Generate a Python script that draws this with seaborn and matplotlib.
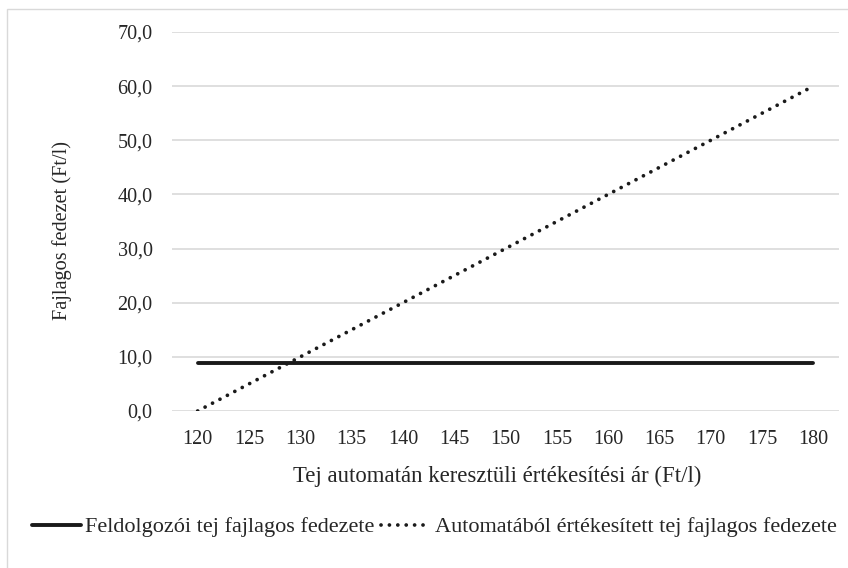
import numpy as np
import pandas as pd
import matplotlib.pyplot as plt
import seaborn as sns
from matplotlib.patches import Rectangle

# Data
prices = [120, 125, 130, 135, 140, 145, 150, 155, 160, 165, 170, 175, 180]
processor_margin = [8.8] * 13
vending_margin = [0, 5, 10, 15, 20, 25, 30, 35, 40, 45, 50, 55, 60]
y_ticks = [0, 10, 20, 30, 40, 50, 60, 70]

label_processor = "Feldolgozói tej fajlagos fedezete"
label_vending = "Automatából értékesített tej fajlagos fedezete"

df = pd.DataFrame({
    "price": prices,
    "processor": processor_margin,
    "vending": vending_margin,
})

sns.set_style("white")
plt.rcParams["font.family"] = ["Liberation Serif", "DejaVu Serif"]

W, H = 848, 568
fig = plt.figure(figsize=(W / 100, H / 100), dpi=100)
ax = fig.add_axes([172 / W, 1 - 411 / H, (839 - 172) / W, (411 - 32) / H])

# Excel-like outer border
fig.patches.append(Rectangle((7 / W, -0.1), 1.2, 1 - 9 / H + 0.1,
                             transform=fig.transFigure, fill=False,
                             edgecolor="#d9d9d9", linewidth=1))

sns.lineplot(data=df, x="price", y="processor", ax=ax, color="#1a1a1a",
             linewidth=2.8, label=label_processor)
sns.lineplot(data=df, x="price", y="vending", ax=ax, color="#1a1a1a",
             linewidth=2.7, label=label_vending,
             linestyle=(0, (0.01, 2.23)), dash_capstyle="round")

ax.set_xlim(117.5, 182.5)
ax.set_ylim(0, 70)
ax.set_xticks(prices)
ax.set_yticks(y_ticks)
ax.set_yticklabels([f"{v:.1f}".replace(".", ",") for v in y_ticks])
ax.tick_params(axis="both", length=0, labelsize=14.5, colors="#262626")
ax.tick_params(axis="y", pad=14)
ax.tick_params(axis="x", pad=14)

ax.grid(axis="y", color="#d9d9d9", linewidth=1.2)
ax.set_axisbelow(True)
for s in ax.spines.values():
    s.set_visible(False)

ax.set_xlabel("Tej automatán keresztüli értékesítési ár (Ft/l)",
              fontsize=16.4, color="#262626")
ax.xaxis.set_label_coords((497.5 - 172) / (839 - 172), -(476 - 411) / (411 - 32))
ax.xaxis.label.set_va("center")
ax.set_ylabel("Fajlagos fedezet (Ft/l)", fontsize=14.6, color="#262626")
ax.yaxis.set_label_coords(-(172 - 62) / (839 - 172), (411 - 230) / (411 - 32))
ax.yaxis.label.set_va("center")

ax.get_legend().remove()
handles, labels = ax.get_legend_handles_labels()
fig.legend(handles, labels, loc="center left", bbox_to_anchor=(32 / W, 1 - 527 / H),
           ncol=2, frameon=False, fontsize=16, handlelength=2.2,
           handletextpad=0.2, columnspacing=0.3, labelcolor="#262626",
           borderaxespad=0, borderpad=0)

fig.savefig("out.png", dpi=100)
